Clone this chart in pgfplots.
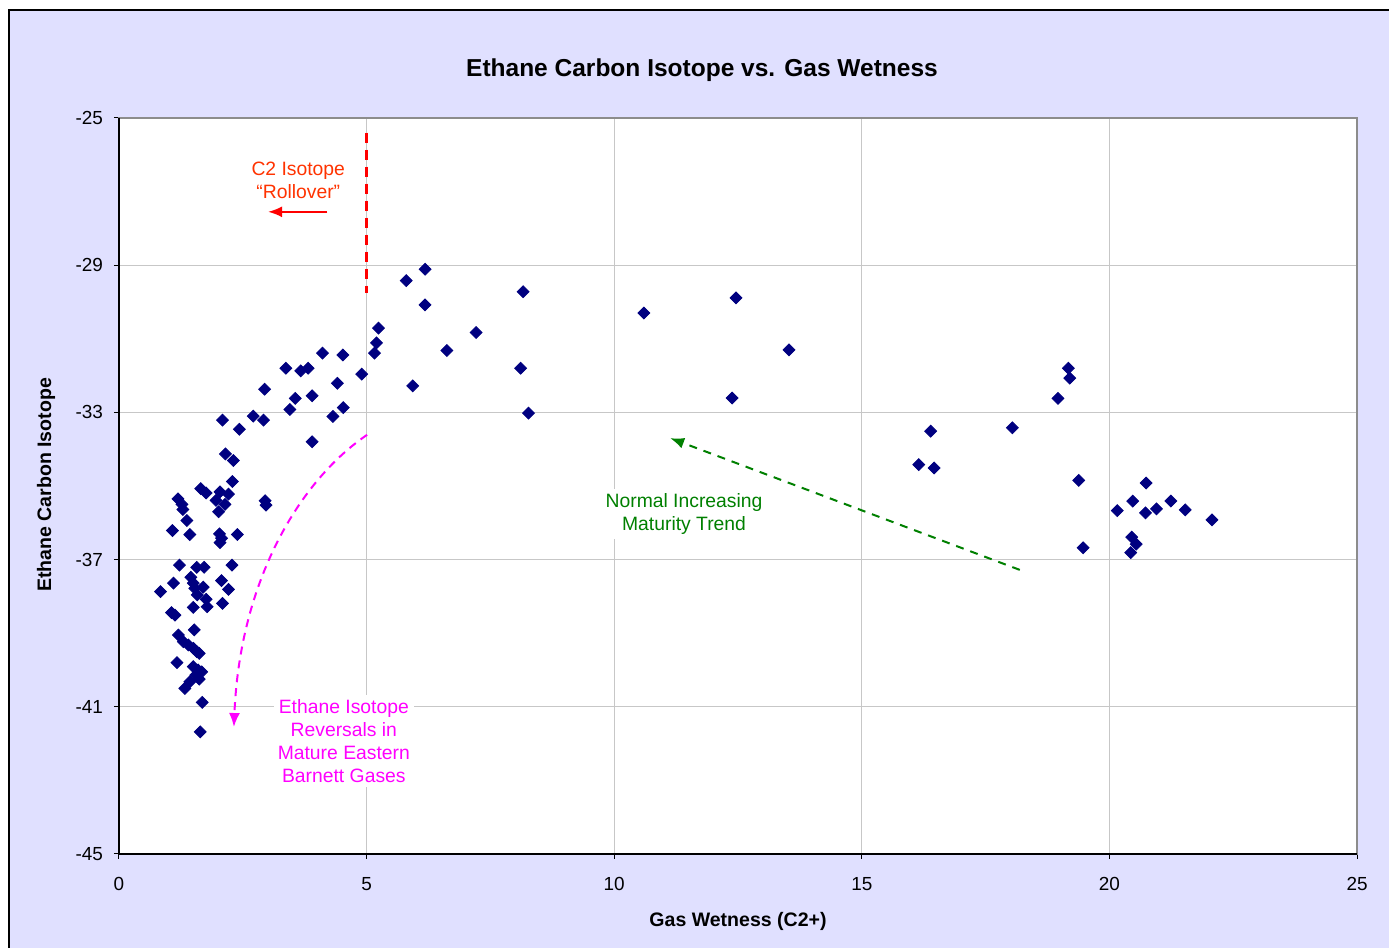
\documentclass[border=0pt]{standalone}
\usepackage{pgfplots}
\pgfplotsset{compat=1.18}
\usepackage{fontspec}
\setmainfont{Liberation Sans}
\usetikzlibrary{arrows.meta}
\definecolor{chartbg}{RGB}{224,224,255}
\definecolor{ptnavy}{RGB}{0,0,128}
\definecolor{rollred}{RGB}{255,51,0}
\definecolor{trendgreen}{RGB}{0,128,0}
\definecolor{revmagenta}{RGB}{255,0,255}
\begin{document}
\begin{tikzpicture}[x=1bp,y=1bp]
\useasboundingbox (-59.5,-47) rectangle (635,427);
\fill[white] (-59.5,-47) rectangle (635,427);
\fill[chartbg] (-55,-47) rectangle (635,422);
\draw[black,line width=0.7bp] (-55,-47) -- (-55,422) -- (635,422);
\begin{axis}[
  at={(0,0)}, anchor=south west,
  scale only axis, width=619bp, height=368bp,
  xmin=0, xmax=25, ymin=-45, ymax=-25,
  xtick={0,5,...,25}, ytick={-45,-41,-37,-33,-29,-25},
  xtick pos=left, ytick pos=left,
  grid=major, major grid style={draw=black!22, line width=0.6bp},
  axis line style={draw=black!45, line width=0.6bp},
  tick align=outside, major tick length=2.5bp,
  tick style={black, line width=0.5bp},
  ticklabel style={font=\fontsize{9.5}{11}\selectfont},
  /pgf/number format/assume math mode=true,
  yticklabel style={xshift=-2bp},
  xticklabel style={yshift=-5.5bp},
  axis background/.style={fill=white},
  clip=false,
]
\addplot[only marks, mark=square*, mark size=2.1bp,
  mark options={rotate=45, fill=ptnavy, draw=ptnavy}] coordinates {
(5.20,-31.11) (5.16,-31.39) (5.24,-30.71) (4.11,-31.39) (4.52,-31.44)
(3.37,-31.80) (3.67,-31.87) (3.82,-31.80) (4.90,-31.96) (2.94,-32.37)
(4.41,-32.21) (3.56,-32.62) (3.90,-32.55) (3.45,-32.92) (4.53,-32.87)
(4.32,-33.11) (2.71,-33.10) (2.92,-33.21) (2.09,-33.21) (2.43,-33.46)
(3.90,-33.80) (2.15,-34.13) (2.31,-34.31) (2.29,-34.88) (1.65,-35.07)
(1.76,-35.19) (2.04,-35.16) (2.21,-35.22) (1.19,-35.35) (1.27,-35.50)
(1.29,-35.64) (1.96,-35.39) (2.14,-35.50) (2.01,-35.70) (2.95,-35.40)
(2.97,-35.52) (1.37,-35.94) (1.08,-36.21) (1.43,-36.32) (2.03,-36.30)
(2.07,-36.42) (2.04,-36.54) (2.39,-36.32) (1.22,-37.15) (1.57,-37.21)
(1.72,-37.21) (2.28,-37.15) (1.10,-37.64) (0.84,-37.87) (1.45,-37.48)
(1.50,-37.64) (1.53,-37.78) (1.70,-37.75) (1.58,-37.96) (1.76,-38.08)
(1.78,-38.28) (2.07,-37.57) (2.21,-37.81) (2.09,-38.19) (1.50,-38.30)
(1.06,-38.44) (1.13,-38.51) (1.52,-38.91) (1.20,-39.05) (1.30,-39.23)
(1.40,-39.32) (1.50,-39.41) (1.57,-39.50) (1.62,-39.55) (1.17,-39.80)
(1.50,-39.91) (1.60,-40.00) (1.67,-40.05) (1.55,-40.14) (1.62,-40.25)
(1.43,-40.32) (1.33,-40.50) (1.68,-40.88) (1.64,-41.68)
(6.18,-29.11) (5.80,-29.42) (8.16,-29.72) (6.18,-30.08) (7.21,-30.83)
(6.62,-31.32) (8.11,-31.80) (5.93,-32.28) (8.27,-33.02) (10.60,-30.30)
(12.46,-29.89) (13.53,-31.30) (12.38,-32.61)
(19.17,-31.80) (19.20,-32.07) (18.96,-32.62) (16.39,-33.51) (18.04,-33.42)
(16.15,-34.42) (16.46,-34.51) (19.38,-34.85) (20.74,-34.92) (20.16,-35.67)
(20.47,-35.41) (20.73,-35.73) (20.95,-35.62) (21.24,-35.41) (21.53,-35.65)
(22.07,-35.92) (19.47,-36.68) (20.45,-36.39) (20.54,-36.58) (20.43,-36.81)
};
% left and bottom axis lines in black
\draw[black, line width=0.7bp] (rel axis cs:0,1) -- (rel axis cs:0,0) -- (rel axis cs:1,0);
% rollover boundary
\draw[red, line width=1.6bp, dash pattern=on 5bp off 3.5bp] (axis cs:5,-25.4) -- (axis cs:5,-29.76);
\node[text=rollred, align=center, font=\fontsize{9.7}{11.8}\selectfont] at (axis cs:3.62,-26.7) {C2 Isotope\\“Rollover”};
\draw[red, line width=1bp, -{Latex[length=7bp,width=5.5bp]}] (axis cs:4.21,-27.55) -- (axis cs:3.01,-27.55);
% maturity trend
\draw[trendgreen, line width=1bp, dash pattern=on 4bp off 3.5bp, -{Latex[length=7bp,width=5.5bp]}]
  (axis cs:18.19,-37.28) -- (axis cs:11.13,-33.70);
\node[fill=white, inner sep=2bp, text=trendgreen, align=center, font=\fontsize{9.7}{11.8}\selectfont] at (axis cs:11.41,-35.76) {Normal Increasing\\Maturity Trend};
% reversals
\draw[revmagenta, line width=1bp, dash pattern=on 4bp off 3bp, -{Latex[length=7bp,width=5.5bp]}]
  (axis cs:5.01,-33.61) .. controls (axis cs:3.66,-34.84) and (axis cs:2.44,-37.56) .. (axis cs:2.32,-41.55);
\node[fill=white, inner sep=2bp, text=revmagenta, align=center, font=\fontsize{9.7}{11.6}\selectfont] at (axis cs:4.54,-41.93) {Ethane Isotope\\Reversals in\\Mature Eastern\\Barnett Gases};
\end{axis}
\node[font=\bfseries\fontsize{12.3}{14}\selectfont] at (291.5,392) {Ethane Carbon Isotope vs. Gas Wetness};
\node[font=\bfseries\fontsize{9.8}{11}\selectfont] at (309.5,-33.5) {Gas Wetness (C2+)};
\node[font=\bfseries\fontsize{9.8}{11}\selectfont, rotate=90] at (-36.5,184.5) {Ethane Carbon Isotope};
\end{tikzpicture}
\end{document}
